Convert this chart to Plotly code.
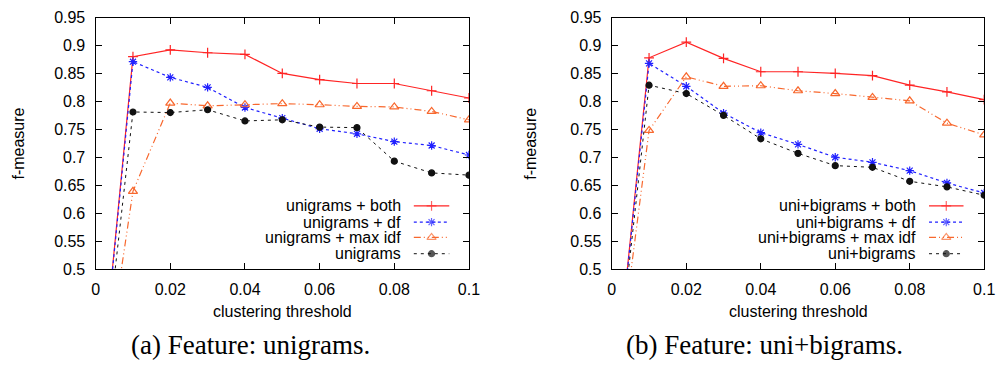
import plotly.graph_objects as go

# ---------------- data ----------------
thresholds = [0.0, 0.01, 0.02, 0.03, 0.04, 0.05, 0.06, 0.07, 0.08, 0.09, 0.10]

uni_both   = [0.19, 0.880, 0.892, 0.887, 0.884, 0.850, 0.839, 0.832, 0.832, 0.819, 0.806]
uni_df     = [0.19, 0.871, 0.843, 0.825, 0.789, 0.770, 0.751, 0.742, 0.728, 0.721, 0.704]
uni_maxidf = [0.19, 0.639, 0.797, 0.792, 0.794, 0.796, 0.794, 0.791, 0.790, 0.782, 0.767]
uni_plain  = [0.19, 0.781, 0.780, 0.785, 0.765, 0.767, 0.754, 0.753, 0.693, 0.672, 0.668]

bi_both    = [0.23, 0.878, 0.906, 0.877, 0.853, 0.853, 0.850, 0.846, 0.829, 0.817, 0.803]
bi_df      = [0.23, 0.868, 0.827, 0.779, 0.744, 0.723, 0.700, 0.691, 0.676, 0.654, 0.636]
bi_maxidf  = [0.23, 0.748, 0.844, 0.827, 0.828, 0.819, 0.814, 0.807, 0.801, 0.761, 0.740]
bi_plain   = [0.23, 0.829, 0.814, 0.775, 0.733, 0.707, 0.685, 0.682, 0.657, 0.647, 0.632]

names_left = ["unigrams + both", "unigrams + df", "unigrams + max idf", "unigrams"]
names_right = ["uni+bigrams + both", "uni+bigrams + df", "uni+bigrams + max idf", "uni+bigrams"]

x_tickvals = [0, 0.02, 0.04, 0.06, 0.08, 0.1]
x_ticktext = ["0", "0.02", "0.04", "0.06", "0.08", "0.1"]
y_tickvals = [0.5, 0.55, 0.6, 0.65, 0.7, 0.75, 0.8, 0.85, 0.9, 0.95]
y_ticktext = ["0.5", "0.55", "0.6", "0.65", "0.7", "0.75", "0.8", "0.85", "0.9", "0.95"]

captions = ["(a) Feature: unigrams.", "(b) Feature: uni+bigrams."]

# ---------------- styles ----------------
W, H = 1008, 387
SANS = "Liberation Sans, Arial, sans-serif"
SERIF = "Liberation Serif, Times New Roman, serif"
FS = 16

styles = [
    dict(color="#ff2424", dash="solid", symbol="cross-thin-open", size=7, lw=1.2),
    dict(color="#2020ff", dash="3px,3px", symbol="asterisk-open", size=7, lw=1.2),
    dict(color="#f8682e", dash="7px,3px,1px,3px,1px,3px", symbol="triangle-up-open", size=8, lw=1.2),
    dict(color="#111111", dash="3px,4px", symbol="circle", size=6, lw=1.0),
]

fig = go.Figure()

panels = [
    ("x", "y", [uni_both, uni_df, uni_maxidf, uni_plain], names_left),
    ("x2", "y2", [bi_both, bi_df, bi_maxidf, bi_plain], names_right),
]

for xa, ya, series, names in panels:
    for vals, nm, st in zip(series, names, styles):
        fig.add_trace(go.Scatter(
            x=thresholds, y=vals, name=nm, xaxis=xa, yaxis=ya,
            mode="lines+markers", showlegend=False,
            line=dict(color=st["color"], width=st["lw"], dash=st["dash"]),
            marker=dict(symbol=st["symbol"], size=st["size"], color=st["color"],
                        line=dict(color=st["color"], width=1.2)),
        ))

# pixel geometry
left_px = [(93, 472), (617, 995)]
top_px, bot_px = 10, 273

def px_x(p):
    return p / W

def px_y(p):
    return 1 - p / H

axis_common = dict(
    showline=True, linecolor="black", linewidth=1.3, mirror="allticks",
    ticks="inside", ticklen=6, tickwidth=1, tickcolor="black",
    showgrid=False, zeroline=False,
    tickfont=dict(family=SANS, size=FS, color="black"),
)

layout_axes = {}
for i, (l, r) in enumerate(left_px):
    sfx = "" if i == 0 else "2"
    layout_axes["xaxis" + sfx] = dict(
        axis_common, domain=[px_x(l), px_x(r)], range=[0, 0.1],
        tickvals=x_tickvals, ticktext=x_ticktext,
        ticklabelstandoff=6,
        anchor="y" + sfx,
    )
    layout_axes["yaxis" + sfx] = dict(
        axis_common, domain=[px_y(bot_px), px_y(top_px)], range=[0.5, 0.95],
        tickvals=y_tickvals, ticktext=y_ticktext,
        ticklabelstandoff=6,
        anchor="x" + sfx,
    )

# overlay pixel axis for legend keys
layout_axes["xaxis3"] = dict(domain=[0, 1], range=[0, W], visible=False, anchor="y3", fixedrange=True)
layout_axes["yaxis3"] = dict(domain=[0, 1], range=[H, 0], visible=False, anchor="x3", fixedrange=True)

annotations = []
legend_rows = [207, 224, 240, 257]
legend_text_right = [405, 928]
legend_key = [(416, 452), (939, 974)]

for i, names in enumerate([names_left, names_right]):
    for row, nm, st in zip(legend_rows, names, styles):
        annotations.append(dict(
            text=nm, x=px_x(legend_text_right[i]), y=px_y(row), xref="paper", yref="paper",
            xanchor="right", yanchor="middle", showarrow=False,
            font=dict(family=SANS, size=FS, color="black"),
        ))
        k0, k1 = legend_key[i]
        fig.add_trace(go.Scatter(
            x=[k0, (k0 + k1) / 2, k1], y=[row, row, row], xaxis="x3", yaxis="y3",
            mode="lines+markers", showlegend=False, hoverinfo="skip",
            line=dict(color=st["color"], width=st["lw"], dash=st["dash"]),
            marker=dict(symbol=st["symbol"], size=[0, st["size"], 0], color=st["color"],
                        line=dict(color=st["color"], width=1.2)),
        ))

    l, r = left_px[i]
    annotations.append(dict(
        text="clustering threshold", x=px_x((l + r) / 2), y=px_y(317), xref="paper", yref="paper",
        xanchor="center", yanchor="middle", showarrow=False,
        font=dict(family=SANS, size=FS, color="black"),
    ))
    annotations.append(dict(
        text="f-measure", x=px_x([15, 535][i]), y=px_y(142), xref="paper", yref="paper",
        xanchor="center", yanchor="middle", showarrow=False, textangle=-90,
        font=dict(family=SANS, size=FS, color="black"),
    ))
    annotations.append(dict(
        text=captions[i], x=px_x([250, 772][i]), y=px_y(353), xref="paper", yref="paper",
        xanchor="center", yanchor="middle", showarrow=False,
        font=dict(family=SERIF, size=27, color="black"),
    ))

fig.update_layout(
    width=W, height=H,
    margin=dict(l=0, r=0, t=0, b=0),
    paper_bgcolor="white", plot_bgcolor="rgba(0,0,0,0)",
    annotations=annotations,
    **layout_axes,
)

fig.write_html("out.html")
